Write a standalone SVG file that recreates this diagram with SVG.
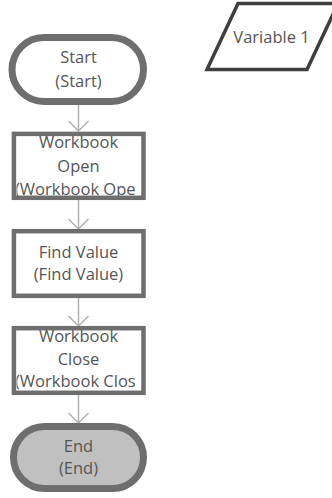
<svg xmlns="http://www.w3.org/2000/svg" width="332" height="498" viewBox="0 0 332 498">
<style>
.node{fill:#ffffff;stroke:#6e6e6e}
.term{stroke-width:7}
.proc{stroke-width:4.5}
.t{font-family:"Open Sans","Noto Sans","Liberation Sans",sans-serif;font-size:16.5px;fill:#555555;text-anchor:middle}
.ts{text-anchor:start}
.conn{stroke:#b0b0b0;stroke-width:1.5;fill:none}
</style>
<defs>
<marker id="arr" markerUnits="userSpaceOnUse" markerWidth="14" markerHeight="24" viewBox="0 -12 14 24" refX="12" refY="0" orient="auto" overflow="visible">
<path d="M2,-10 L12,0 L2,10" fill="none" stroke="#b0b0b0" stroke-width="1.5"/>
</marker>
<clipPath id="c1"><rect x="16.5" y="136" width="125" height="60"/></clipPath>
<clipPath id="c2"><rect x="16.5" y="330.5" width="125" height="60"/></clipPath>
</defs>
<g id="connectors">
<line class="conn" x1="78.5" y1="105" x2="78.5" y2="131" marker-end="url(#arr)"/>
<line class="conn" x1="78.5" y1="200" x2="78.5" y2="229" marker-end="url(#arr)"/>
<line class="conn" x1="78.5" y1="298" x2="78.5" y2="326" marker-end="url(#arr)"/>
<line class="conn" x1="78.5" y1="395" x2="78.5" y2="423" marker-end="url(#arr)"/>
</g>
<g id="start">
<rect class="node term" x="12" y="37.5" width="131.5" height="64" rx="32"/>
<text class="t" x="78.5" y="63">Start</text>
<text class="t" x="78.5" y="86.5">(Start)</text>
</g>
<g id="workbook-open">
<rect class="node proc" x="13.9" y="133.9" width="129.6" height="63.9"/>
<text class="t" x="78.5" y="148.3">Workbook</text>
<text class="t" x="78.5" y="171.5">Open</text>
<text class="t ts" clip-path="url(#c1)" x="15" y="194.5">(Workbook Ope</text>
</g>
<g id="find-value">
<rect class="node proc" x="13.9" y="231.2" width="129.6" height="64.6"/>
<text class="t" x="78.5" y="257.5">Find Value</text>
<text class="t" x="78.5" y="280">(Find Value)</text>
</g>
<g id="workbook-close">
<rect class="node proc" x="13.9" y="328.2" width="129.6" height="64.6"/>
<text class="t" x="78.5" y="341.7">Workbook</text>
<text class="t" x="78.5" y="364.8">Close</text>
<text class="t ts" clip-path="url(#c2)" x="15" y="387">(Workbook Clos</text>
</g>
<g id="end">
<rect class="node term" x="13.5" y="426.5" width="130" height="62" rx="31" style="fill:#c0c0c0"/>
<text class="t" x="78.5" y="451.7">End</text>
<text class="t" x="78.5" y="473.5">(End)</text>
</g>
<g id="variable-1">
<polygon points="238,3.5 338,3.5 307,69.5 207,69.5" fill="#ffffff" stroke="#3e3e3e" stroke-width="3.5"/>
<text class="t" x="271.5" y="42.5">Variable 1</text>
</g>
</svg>
